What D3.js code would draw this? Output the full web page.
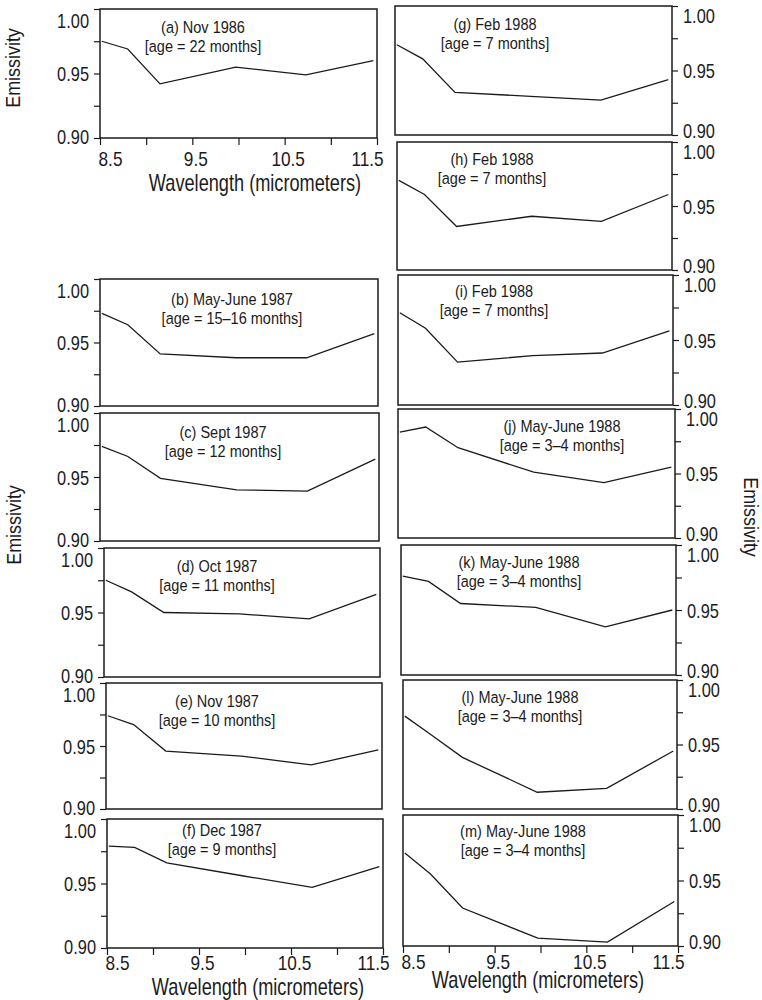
<!DOCTYPE html>
<html>
<head>
<meta charset="utf-8">
<script src="https://cdn.jsdelivr.net/npm/d3@7"></script>
<style>
  html, body { margin: 0; padding: 0; background: #fff; }
  svg { display: block; font-family: "Liberation Sans", Arial, Helvetica, sans-serif; }
</style>
</head>
<body>
<svg id="chart" width="762" height="1000"></svg>
<script>
// Band-centre wavelengths (micrometers) shared by every spectrum
const wavelengths = [8.52, 8.8, 9.15, 9.97, 10.73, 11.46];

// Emissivity spectra, one array per panel
const emisA = [0.975, 0.969, 0.942, 0.955, 0.949, 0.960];
const emisB = [0.973, 0.964, 0.941, 0.938, 0.938, 0.957];
const emisC = [0.974, 0.966, 0.949, 0.940, 0.939, 0.964];
const emisD = [0.975, 0.966, 0.950, 0.949, 0.945, 0.964];
const emisE = [0.974, 0.967, 0.946, 0.942, 0.935, 0.947];
const emisF = [0.979, 0.978, 0.966, 0.956, 0.947, 0.963];
const emisG = [0.970, 0.959, 0.933, 0.930, 0.927, 0.943];
const emisH = [0.970, 0.959, 0.934, 0.942, 0.938, 0.959];
const emisI = [0.971, 0.959, 0.933, 0.938, 0.940, 0.957];
const emisJ = [0.982, 0.986, 0.970, 0.951, 0.943, 0.955];
const emisK = [0.976, 0.972, 0.955, 0.952, 0.937, 0.950];
const emisL = [0.972, 0.958, 0.940, 0.913, 0.916, 0.945];
const emisM = [0.971, 0.955, 0.929, 0.906, 0.903, 0.934];

// Panel captions
const panelDates = {
  a: "(a) Nov 1986", b: "(b) May-June 1987", c: "(c) Sept 1987", d: "(d) Oct 1987",
  e: "(e) Nov 1987", f: "(f) Dec 1987", g: "(g) Feb 1988", h: "(h) Feb 1988",
  i: "(i) Feb 1988", j: "(j) May-June 1988", k: "(k) May-June 1988",
  l: "(l) May-June 1988", m: "(m) May-June 1988"
};
const panelAges = {
  a: "[age = 22 months]", b: "[age = 15\u201316 months]", c: "[age = 12 months]",
  d: "[age = 11 months]", e: "[age = 10 months]", f: "[age = 9 months]",
  g: "[age = 7 months]", h: "[age = 7 months]", i: "[age = 7 months]",
  j: "[age = 3\u20134 months]", k: "[age = 3\u20134 months]",
  l: "[age = 3\u20134 months]", m: "[age = 3\u20134 months]"
};
const panelSeries = {
  a: emisA, b: emisB, c: emisC, d: emisD, e: emisE, f: emisF, g: emisG,
  h: emisH, i: emisI, j: emisJ, k: emisK, l: emisL, m: emisM
};

// Axis ticks
const yTicks = [0.90, 0.925, 0.95, 0.975, 1.00];
const yTickLabels = [0.90, 0.95, 1.00];
const xTicks = [8.5, 9.0, 9.5, 10.0, 10.5, 11.0, 11.5];
const xTickLabels = [8.5, 9.5, 10.5, 11.5];
const xDomain = [8.5, 11.5];
const yDomain = [0.90, 1.00];

// Frame geometry: box corners, caption centre/baseline, optional x axis
const frames = [
  { key: "a", side: "left",  x0: 100, x1: 377, y0: 9,   y1: 138, tx: 203, ty: 33,
    xAxis: { labelY: 166, titleX: 255, titleY: 190.5 } },
  { key: "b", side: "left",  x0: 100, x1: 378, y0: 279, y1: 406, tx: 232, ty: 305 },
  { key: "c", side: "left",  x0: 100, x1: 379, y0: 413, y1: 541, tx: 223, ty: 438 },
  { key: "d", side: "left",  x0: 104, x1: 380, y0: 548, y1: 677, tx: 217, ty: 572 },
  { key: "e", side: "left",  x0: 106, x1: 382, y0: 683, y1: 809, tx: 217, ty: 707 },
  { key: "f", side: "left",  x0: 107, x1: 383, y0: 819, y1: 948, tx: 222, ty: 836,
    xAxis: { labelY: 970, titleX: 258, titleY: 995 } },
  { key: "g", side: "right", x0: 395, x1: 672, y0: 6,   y1: 135, tx: 495, ty: 30 },
  { key: "h", side: "right", x0: 397, x1: 672, y0: 142, y1: 270, tx: 492, ty: 165 },
  { key: "i", side: "right", x0: 398, x1: 673, y0: 275, y1: 405, tx: 494, ty: 297 },
  { key: "j", side: "right", x0: 398, x1: 675, y0: 409, y1: 538, tx: 562, ty: 432 },
  { key: "k", side: "right", x0: 401, x1: 676, y0: 545, y1: 675, tx: 519, ty: 568 },
  { key: "l", side: "right", x0: 403, x1: 677, y0: 680, y1: 809, tx: 520, ty: 703 },
  { key: "m", side: "right", x0: 403, x1: 678, y0: 815, y1: 946, tx: 523, ty: 837,
    xAxis: { labelY: 969, titleX: 538, titleY: 988 } }
];

const INK = "#1b1b1b";
const svg = d3.select("#chart");
const fmt = d3.format(".2f");

// Condensed text: regular sans squeezed horizontally
function label(parent, x, y, str, opts) {
  const o = Object.assign({ size: 16, sx: 0.85, anchor: "middle", rotate: 0 }, opts);
  return parent.append("text")
    .attr("transform", `translate(${x},${y}) rotate(${o.rotate}) scale(${o.sx},1)`)
    .attr("text-anchor", o.anchor)
    .attr("fill", INK)
    .style("font-size", o.size + "px")
    .text(str);
}

frames.forEach(fr => {
  const g = svg.append("g").attr("class", "panel panel-" + fr.key);
  const x = d3.scaleLinear().domain(xDomain).range([fr.x0, fr.x1]);
  const y = d3.scaleLinear().domain(yDomain).range([fr.y1, fr.y0]);

  // Y axis on the outer side of the column
  const isLeft = fr.side === "left";
  const yAxis = (isLeft ? d3.axisLeft(y) : d3.axisRight(y))
    .tickValues(yTicks)
    .tickSize(6)
    .tickFormat(d => yTickLabels.some(v => Math.abs(v - d) < 1e-9) ? fmt(d) : "");
  const ya = g.append("g")
    .attr("transform", `translate(${isLeft ? fr.x0 : fr.x1},0)`)
    .call(yAxis);
  ya.select(".domain").remove();
  ya.selectAll("line").attr("stroke", INK).attr("stroke-width", 1.2);
  ya.selectAll("text").each(function (d) {
    // end labels are nudged inward so stacked frames keep them apart
    let shift = 0;
    if (Math.abs(d - 1.00) < 1e-9) shift = isLeft ? 11 : 9;
    if (Math.abs(d - 0.90) < 1e-9) shift = isLeft ? -2 : -5;
    d3.select(this)
      .attr("x", null)
      .attr("dy", "0.36em")
      .attr("fill", INK)
      .attr("text-anchor", isLeft ? "end" : "start")
      .attr("transform", `translate(${isLeft ? -11 : 11},${shift}) scale(0.82,1)`)
      .style("font-size", "20px")
      .style("font-family", null);
  });
  ya.attr("font-family", null).attr("font-size", null);

  // X axis only on the top-left and the two bottom panels
  if (fr.xAxis) {
    const xAxis = d3.axisBottom(x)
      .tickValues(xTicks)
      .tickSize(7)
      .tickFormat(d => xTickLabels.some(v => Math.abs(v - d) < 1e-9) ? String(d) : "");
    const xa = g.append("g")
      .attr("transform", `translate(0,${fr.y1})`)
      .call(xAxis);
    xa.select(".domain").remove();
    xa.selectAll("line").attr("stroke", INK).attr("stroke-width", 1.2);
    xa.selectAll("text").each(function (d) {
      let dx = 3;
      if (Math.abs(d - 8.5) < 1e-9) dx = 10;
      if (Math.abs(d - 11.5) < 1e-9) dx = -10;
      d3.select(this)
        .attr("y", null)
        .attr("dy", null)
        .attr("fill", INK)
        .attr("transform", `translate(${dx},${fr.xAxis.labelY - fr.y1}) scale(0.82,1)`)
        .style("font-size", "21px");
    });
    xa.attr("font-family", null).attr("font-size", null);
    label(svg, fr.xAxis.titleX, fr.xAxis.titleY, "Wavelength (micrometers)",
      { size: 23, sx: 0.79 });
  }

  // Spectrum line
  const line = d3.line()
    .x((d, i) => x(wavelengths[i]))
    .y(d => y(d));
  g.append("path")
    .datum(panelSeries[fr.key])
    .attr("d", line)
    .attr("fill", "none")
    .attr("stroke", INK)
    .attr("stroke-width", 1.3)
    .attr("stroke-linejoin", "miter");

  // Frame
  g.append("rect")
    .attr("x", fr.x0).attr("y", fr.y0)
    .attr("width", fr.x1 - fr.x0).attr("height", fr.y1 - fr.y0)
    .attr("fill", "none")
    .attr("stroke", INK)
    .attr("stroke-width", 1.5);

  // Caption
  label(g, fr.tx, fr.ty, panelDates[fr.key], { size: 16.5, sx: 0.88 });
  label(g, fr.tx, fr.ty + 19, panelAges[fr.key], { size: 16.5, sx: 0.88 });
});

// Shared y-axis titles
label(svg, 20, 68, "Emissivity", { size: 19.5, sx: 0.92, rotate: -90 });
label(svg, 21, 525, "Emissivity", { size: 19.5, sx: 0.92, rotate: -90 });
label(svg, 744, 517, "Emissivity", { size: 19.5, sx: 0.92, rotate: 90 });
</script>
</body>
</html>
